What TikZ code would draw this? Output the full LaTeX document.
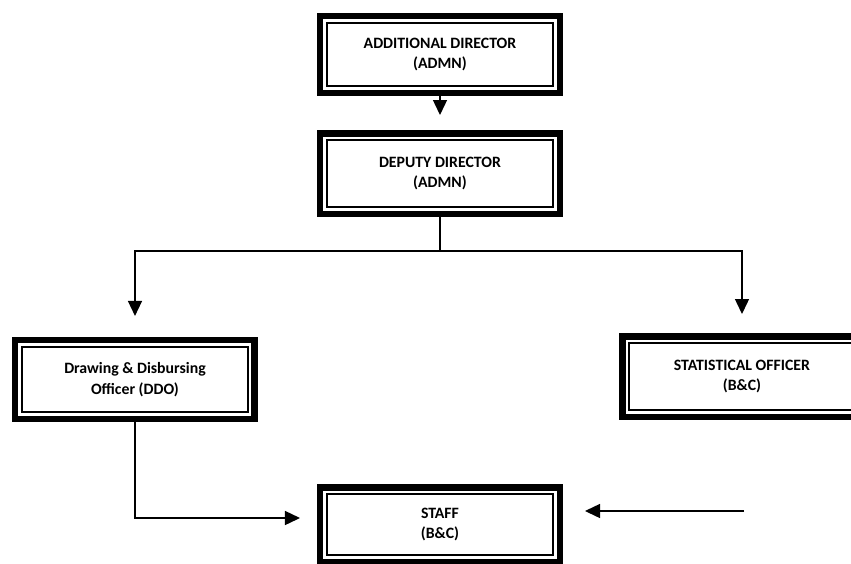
\documentclass[tikz,border=0pt]{standalone}
\usepackage{fontspec}
\setmainfont{Carlito}
\usepackage{tikz}
\usetikzlibrary{arrows.meta, positioning}
\tikzstyle{post} = [draw, rectangle, line width=6.5pt, outer sep=3.25pt, minimum width=239.5pt, minimum height=78pt, align=center, font=\bfseries\fontsize{15.8}{20.5}\selectfont]
\tikzstyle{inner} = [draw, line width=1.7pt]
\tikzstyle{feed} = [coordinate]

\begin{document}
\begin{tikzpicture}[auto, node distance=2cm, >={Triangle[length=15pt,width=14pt]}, line width=1.4pt]
        \useasboundingbox (-440pt,54.3pt) rectangle ++(851pt,-563pt);
        % We start by placing the posts
        \node [post, minimum height=77pt] (addDir) {ADDITIONAL DIRECTOR\\(ADMN)};
        \node [post, below of=addDir, node distance=119.2pt, minimum height=80.5pt] (depDir) {DEPUTY DIRECTOR\\(ADMN)};
        \node [post, below of=depDir, node distance=206.2pt, xshift=-305pt, minimum height=79pt] (ddo) {Drawing \& Disbursing\\Officer (DDO)};
        \node [post, below of=depDir, node distance=203pt, xshift=302pt, minimum height=80.5pt] (statOff) {STATISTICAL OFFICER\\(B\&C)};
        \node [post, below of=depDir, node distance=351pt, minimum height=74.5pt] (staff) {STAFF\\(B\&C)};
        \node [feed, right of=staff, node distance=304pt, yshift=13.5pt] (staffFeed) {};

        % thin inner frame of every post
        \foreach \post in {addDir, depDir, ddo, statOff, staff}
            \draw [inner] ([shift={(10.3pt,-10.3pt)}]\post.north west) rectangle ([shift={(-10.3pt,10.3pt)}]\post.south east);

        % Once the posts are placed, connecting them is easy.
        \draw [->, shorten >=15pt] (addDir) -- (depDir);
        \draw [->, shorten >=21pt] (depDir.south) -- ++(0,-34pt) -| (ddo.north);
        \draw [->, shorten >=19pt] (depDir.south) -- ++(0,-34pt) -| (statOff.north);
        \draw [->, shorten >=17pt] (ddo.south) |- ([yshift=6.5pt]staff.west);
        \draw [->, shorten >=22pt] (staffFeed) -- (staffFeed -| staff.east);
    \end{tikzpicture}
\end{document}
